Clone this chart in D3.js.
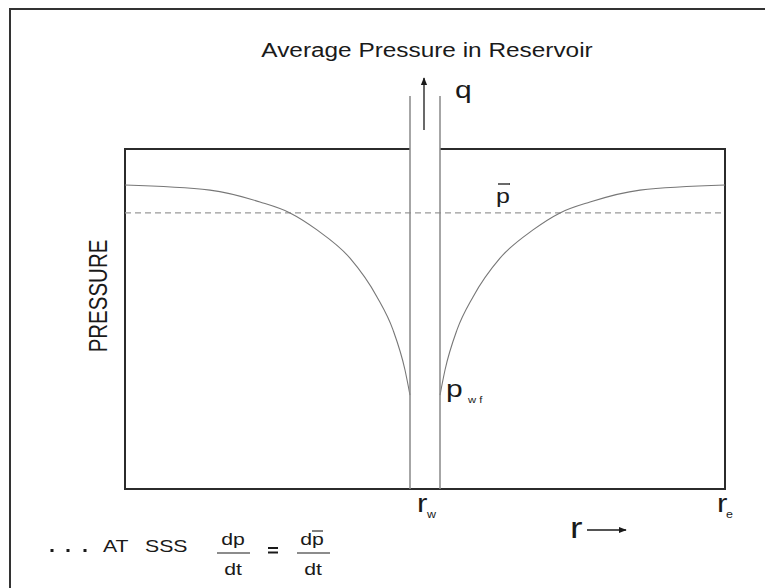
<!DOCTYPE html>
<html>
<head>
<meta charset="utf-8">
<script src="https://cdn.jsdelivr.net/npm/d3@7"></script>
<style>
  body { margin: 0; background: #fff; }
  text { font-family: "Liberation Sans", Arial, sans-serif; fill: #1a1a1a; }
</style>
</head>
<body>
<script>
// distance from the well wall (arbitrary r units) and pressure (0..100 of box height)
const distFromWell = [0, 5, 17, 33, 60, 93, 120, 150, 200, 285]
const pressure     = [27.6, 35.0, 46.8, 56.5, 67.9, 76.2, 81.2, 84.4, 87.9, 89.4]
const avgPressure = 81.2
const wellRadius = 15
const outerRadius = 300
const wellTop = 115.6

let W = 765, H = 588
let sx = 1.25   // the lettering in the figure is drawn wide

let svg = d3.select("body").append("svg")
            .attr("width", W)
            .attr("height", H)

let x = d3.scaleLinear().domain([-outerRadius, outerRadius]).range([125, 725])
let y = d3.scaleLinear().domain([0, 100]).range([489, 149])

function label(px, py, txt, size, anchor) {
    return svg.append("text")
                .attr("transform", "translate(" + px + "," + py + ") scale(" + sx + ",1)")
                .attr("text-anchor", anchor || "start")
                .style("font-size", size + "px")
                .text(txt)
}

// outer frame (top + left only visible)
svg.append("path")
    .attr("d", "M10,588 L10,9 L765,9")
    .attr("fill", "none")
    .attr("stroke", "#333")
    .attr("stroke-width", 2)

// inner box, broken at the well
let box = d3.path()
box.moveTo(x(-wellRadius), y(100))
box.lineTo(x(-outerRadius), y(100))
box.lineTo(x(-outerRadius), y(0))
box.lineTo(x(outerRadius), y(0))
box.lineTo(x(outerRadius), y(100))
box.lineTo(x(wellRadius), y(100))
svg.append("path")
    .attr("d", box.toString())
    .attr("fill", "none")
    .attr("stroke", "#2b2b2b")
    .attr("stroke-width", 2)

// average pressure, dashed
svg.append("line")
    .attr("x1", x(-outerRadius)).attr("x2", x(outerRadius))
    .attr("y1", y(avgPressure)).attr("y2", y(avgPressure))
    .attr("stroke", "#999")
    .attr("stroke-width", 1.2)
    .attr("stroke-dasharray", "6,4")

// pressure profile, mirrored both sides of the well
let line = d3.line()
            .x(d => x(d[0]))
            .y(d => y(d[1]))
            .curve(d3.curveMonotoneX)

let right = distFromWell.map((d, i) => [wellRadius + d, pressure[i]])
let left = distFromWell.map((d, i) => [-(wellRadius + d), pressure[i]]).reverse()

svg.selectAll(".profile")
    .data([left, right])
    .enter()
    .append("path")
        .attr("class", "profile")
        .attr("d", line)
        .attr("fill", "none")
        .attr("stroke", "#777")
        .attr("stroke-width", 1.1)

// well walls
svg.selectAll(".wall")
    .data([-wellRadius, wellRadius])
    .enter()
    .append("line")
        .attr("class", "wall")
        .attr("x1", d => x(d)).attr("x2", d => x(d))
        .attr("y1", y(wellTop)).attr("y2", y(0))
        .attr("stroke", "#888")
        .attr("stroke-width", 1.5)

// arrow markers
let defs = svg.append("defs")
defs.append("marker")
    .attr("id", "head")
    .attr("viewBox", "0 0 10 10")
    .attr("refX", 9).attr("refY", 5)
    .attr("markerWidth", 6).attr("markerHeight", 6)
    .attr("orient", "auto")
    .append("path")
        .attr("d", "M0,1 L10,5 L0,9 Z")
        .attr("fill", "#1a1a1a")

// flow arrow up the well
svg.append("line")
    .attr("x1", x(0) - 1).attr("x2", x(0) - 1)
    .attr("y1", 130).attr("y2", 78)
    .attr("stroke", "#1a1a1a")
    .attr("stroke-width", 1.3)
    .attr("marker-end", "url(#head)")

// r arrow
svg.append("line")
    .attr("x1", 587).attr("x2", 626)
    .attr("y1", 530).attr("y2", 530)
    .attr("stroke", "#1a1a1a")
    .attr("stroke-width", 1.3)
    .attr("marker-end", "url(#head)")

// title and labels
label(x(0) + 2, 57, "Average Pressure in Reservoir", 19.5, "middle")
label(455, 98, "q", 24)

label(496, 203, "p", 20)
svg.append("line")
    .attr("x1", 498).attr("x2", 510)
    .attr("y1", 184).attr("y2", 184)
    .attr("stroke", "#1a1a1a").attr("stroke-width", 1.3)

label(446, 397, "p", 24)
label(468, 403, "w f", 9)

svg.append("text")
    .attr("transform", "translate(107,296) scale(" + sx + ",1) rotate(-90)")
    .attr("text-anchor", "middle")
    .style("font-size", "20.5px")
    .text("PRESSURE")

// r_w and r_e
label(417, 512, "r", 25)
label(427, 518, "w", 10)
label(717, 512, "r", 25)
label(726, 518, "e", 10)
label(570, 538, "r", 30)

// bottom note
svg.selectAll(".dot")
    .data([52, 68, 85])
    .enter()
    .append("rect")
        .attr("class", "dot")
        .attr("x", d => d - 1.5).attr("y", 549)
        .attr("width", 3).attr("height", 3)
        .attr("fill", "#1a1a1a")

label(103, 552, "AT", 17)
label(145, 552, "SSS", 17)

label(233, 545, "dp", 17, "middle")
svg.append("line").attr("x1", 217).attr("x2", 250).attr("y1", 553).attr("y2", 553).attr("stroke", "#1a1a1a").attr("stroke-width", 1.2)
label(233, 575, "dt", 17, "middle")

svg.selectAll(".eq")
    .data([548, 552.5])
    .enter()
    .append("line")
        .attr("class", "eq")
        .attr("x1", 268).attr("x2", 278)
        .attr("y1", d => d).attr("y2", d => d)
        .attr("stroke", "#1a1a1a").attr("stroke-width", 2)

label(312, 545, "dp", 17, "middle")
svg.append("line").attr("x1", 312).attr("x2", 323).attr("y1", 531).attr("y2", 531).attr("stroke", "#1a1a1a").attr("stroke-width", 1.1)
svg.append("line").attr("x1", 297).attr("x2", 330).attr("y1", 553).attr("y2", 553).attr("stroke", "#1a1a1a").attr("stroke-width", 1.2)
label(313, 575, "dt", 17, "middle")
</script>
</body>
</html>
